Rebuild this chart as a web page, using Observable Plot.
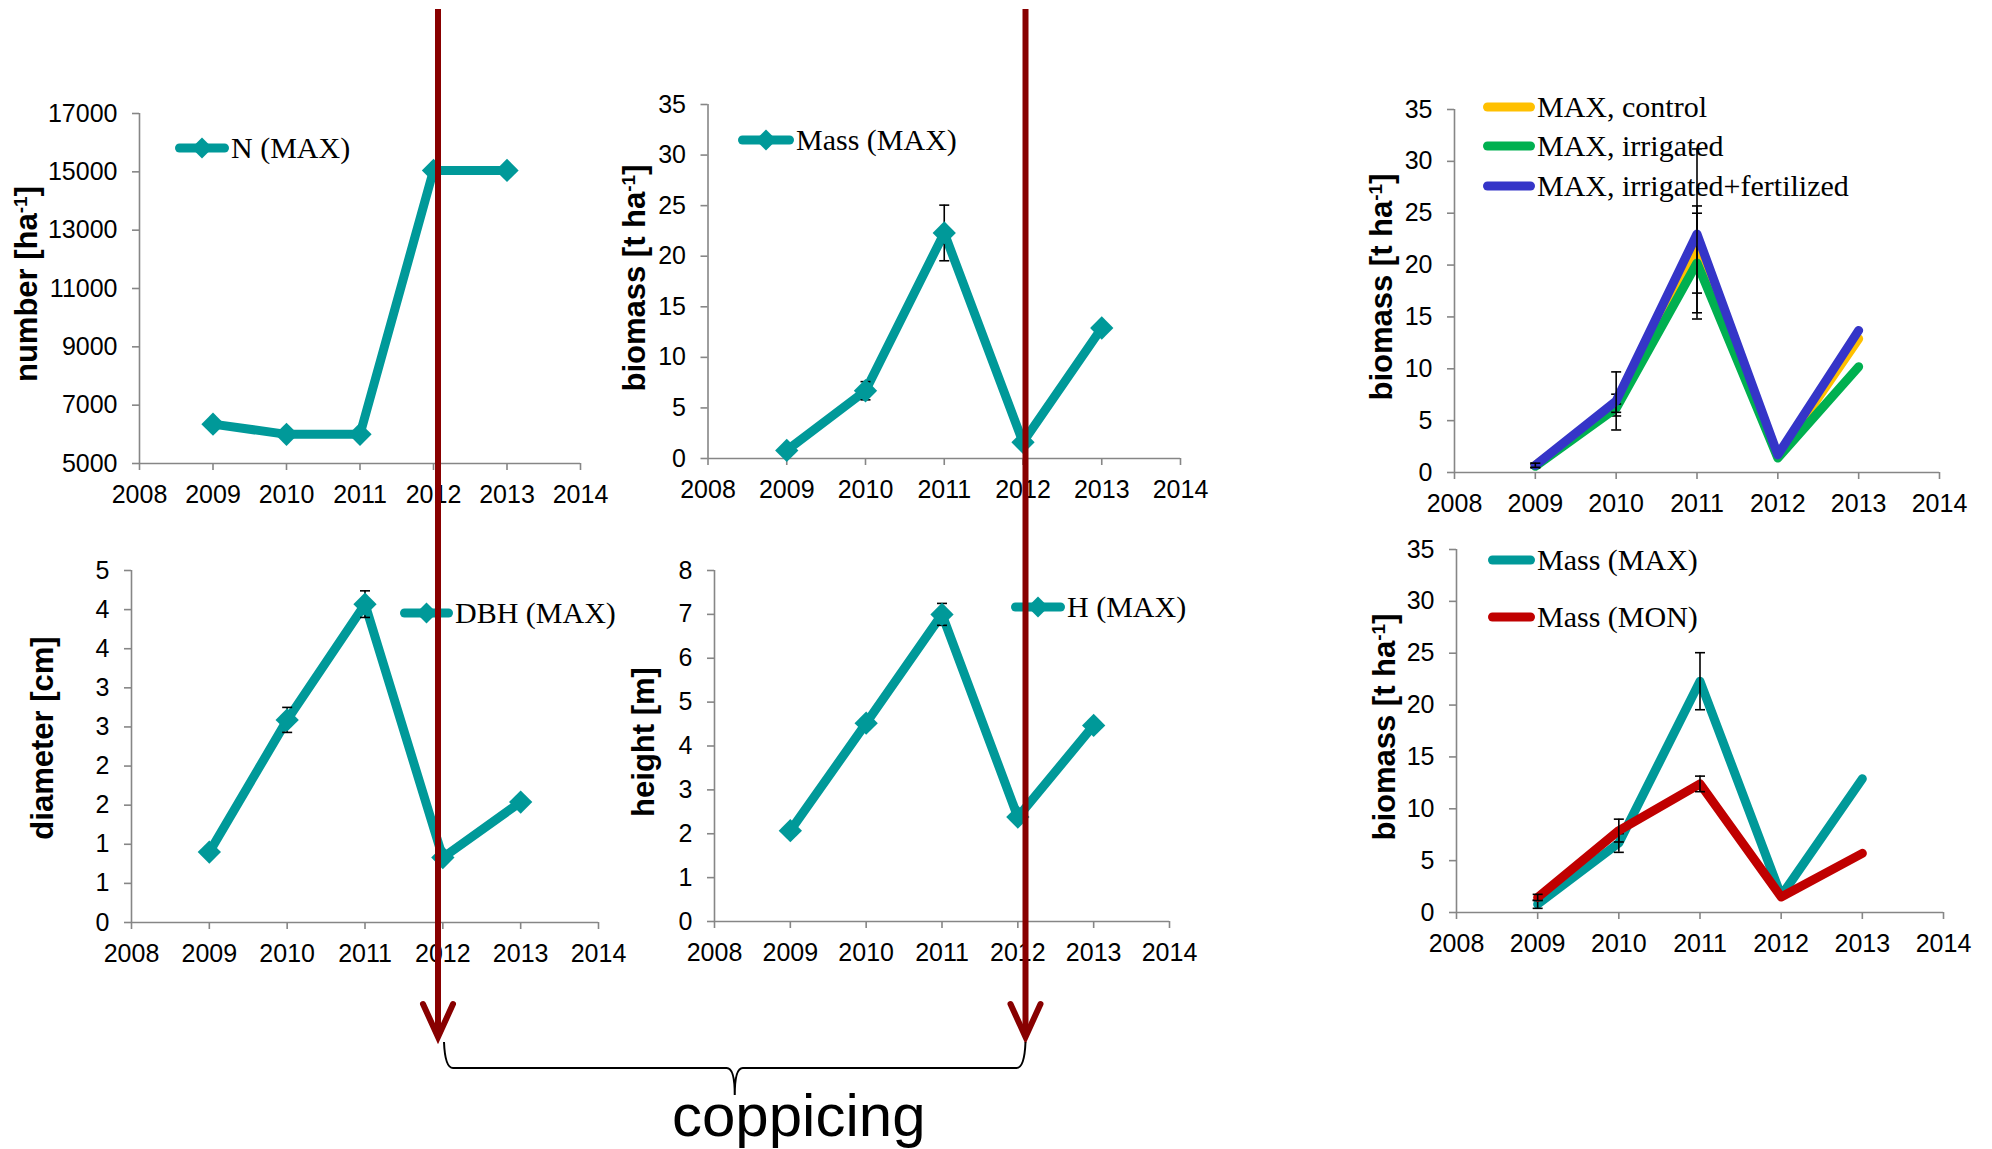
<!DOCTYPE html>
<html>
<head>
<meta charset="utf-8">
<script src="https://cdn.jsdelivr.net/npm/d3@7"></script>
<script src="https://cdn.jsdelivr.net/npm/@observablehq/plot@0.6"></script>
<style>
  html, body { margin: 0; padding: 0; background: #fff; }
  #fig { position: relative; width: 1992px; height: 1149px; overflow: hidden; background: #fff; }
  #fig > svg { position: absolute; }
</style>
</head>
<body>
<div id="fig"></div>
<script>
// ---- data ---------------------------------------------------------------
const years = [2009, 2010, 2011, 2012, 2013];
const xTicks = [2008, 2009, 2010, 2011, 2012, 2013, 2014];
const coppicingYear = 2012;

// MAX clone, stand density
const nMax = [6350, 6000, 6000, 15050, 15050];
// MAX clone, standing biomass and its standard errors
const massMax = [0.8, 6.7, 22.3, 1.6, 12.9];
const massMaxErr = [0.4, 0.9, 2.75, 0, 0];
// MAX clone, breast-height diameter
const dbhMax = [0.9, 2.59, 4.07, 0.83, 1.54];
const dbhMaxErr = [0, 0.16, 0.17, 0, 0];
// MAX clone, tree height
const hMax = [2.07, 4.52, 7.0, 2.38, 4.47];
const hMaxErr = [0, 0.08, 0.25, 0, 0];
// MAX clone by treatment
const massControl = [0.7, 6.5, 21.5, 1.5, 12.9];
const massControlErr = [0.2, 1.05, 4.2, 0, 0];
const massIrrigated = [0.6, 6.2, 20.2, 1.4, 10.2];
const massIrrigatedErr = [0.15, 0.4, 4.8, 0, 0];
const massIrrFert = [0.7, 6.9, 23.0, 1.7, 13.7];
const massIrrFertErr = [0.2, 2.8, 8.2, 0, 0];
// MON clone, standing biomass
const massMon = [1.45, 7.9, 12.4, 1.5, 5.7];
const massMonErr = [0.3, 1.1, 0.75, 0, 0];

// tick values
const nTicks = [5000, 7000, 9000, 11000, 13000, 15000, 17000];
const massTicks = [0, 5, 10, 15, 20, 25, 30, 35];
const dbhTicks = [0, 0.5, 1, 1.5, 2, 2.5, 3, 3.5, 4, 4.5];
const hTicks = [0, 1, 2, 3, 4, 5, 6, 7, 8];

// ---- styling --------------------------------------------------------------
const TEAL = "#009999";
const RED = "#C00000";
const YELLOW = "#FFC000";
const GREEN = "#00B050";
const BLUE = "#3535C8";
const DARKRED = "#880000";
const AXIS = "#868686";
const SANS = "'Liberation Sans', Arial, sans-serif";
const SERIF = "'Liberation Serif', 'Times New Roman', serif";
const LINE_W = 9;

const rows = (vals, errs) => years.map((year, i) => ({year, v: vals[i], e: errs ? errs[i] : 0}));

// horizontal cap used at both ends of an error bar
const capSymbol = {
  draw(ctx, size) {
    const w = Math.sqrt(size / Math.PI);
    ctx.moveTo(-w, 0);
    ctx.lineTo(w, 0);
  }
};

const fig = document.getElementById("fig");

function panel(cfg) {
  const [bx, by, bw, bh] = cfg.box;
  const [fx0, fx1, fy0, fy1] = cfg.frame;
  const marks = [
    Plot.axisX(xTicks, {anchor: "bottom", tickSize: 7, tickPadding: 15, tickFormat: d => String(d),
      stroke: AXIS, strokeWidth: 1.6, fill: "black", label: null}),
    Plot.axisY(cfg.yTicks, {anchor: "left", tickSize: 7, tickPadding: 15, tickFormat: cfg.yFormat,
      stroke: AXIS, strokeWidth: 1.6, fill: "black", label: null}),
    Plot.ruleY([cfg.yDomain[0]], {stroke: AXIS, strokeWidth: 1.6}),
    Plot.ruleX([2008], {stroke: AXIS, strokeWidth: 1.6})
  ];
  for (const s of cfg.series) {
    const data = rows(s.values, s.errors);
    marks.push(Plot.line(data, {x: "year", y: "v", stroke: s.color, strokeWidth: LINE_W,
      strokeLinejoin: "round", strokeLinecap: "round"}));
    const err = data.filter(d => d.e > 0);
    if (err.length) {
      marks.push(Plot.ruleX(err, {x: "year", y1: d => d.v - d.e, y2: d => d.v + d.e, stroke: "black", strokeWidth: 1.6}));
      marks.push(Plot.dot(err, {x: "year", y: d => d.v - d.e, symbol: capSymbol, r: 5, fill: "none", stroke: "black", strokeWidth: 1.6}));
      marks.push(Plot.dot(err, {x: "year", y: d => d.v + d.e, symbol: capSymbol, r: 5, fill: "none", stroke: "black", strokeWidth: 1.6}));
    }
    if (s.marker) {
      marks.push(Plot.dot(data, {x: "year", y: "v", symbol: "diamond2", r: 10.5, fill: s.color, stroke: "none"}));
    }
  }
  const plot = Plot.plot({
    width: bw, height: bh,
    marginLeft: fx0 - bx, marginRight: bx + bw - fx1,
    marginTop: fy0 - by, marginBottom: by + bh - fy1,
    x: {domain: [2008, 2014], label: null},
    y: {domain: cfg.yDomain, label: null},
    style: {fontFamily: SANS, fontSize: "25px", background: "transparent", overflow: "visible", color: "black"},
    marks
  });
  plot.style.left = bx + "px";
  plot.style.top = by + "px";
  fig.appendChild(plot);

  const svg = d3.select(plot);

  // y-axis title with superscript unit exponent
  const [tx, ty] = cfg.titlePos;
  const t = svg.append("text")
    .attr("transform", `translate(${tx - bx},${ty - by}) rotate(-90)`)
    .attr("text-anchor", "middle")
    .attr("dy", "0.28em")
    .attr("font-family", SANS)
    .attr("font-weight", "bold")
    .attr("font-size", 31)
    .attr("fill", "black");
  cfg.title.forEach(part => {
    const sp = t.append("tspan").text(part.text);
    if (part.sup) sp.attr("font-size", 19).attr("baseline-shift", "super");
  });

  // legend entries
  const lg = svg.append("g");
  cfg.legend.forEach(item => {
    const s = cfg.series[item.series];
    const y = item.y - by;
    lg.append("line")
      .attr("x1", item.x0 - bx + LINE_W / 2).attr("x2", item.x1 - bx - LINE_W / 2)
      .attr("y1", y).attr("y2", y)
      .attr("stroke", s.color).attr("stroke-width", LINE_W).attr("stroke-linecap", "round");
    if (s.marker) {
      lg.append("path")
        .attr("transform", `translate(${(item.x0 + item.x1) / 2 - bx},${y})`)
        .attr("d", d3.symbol(d3.symbolDiamond2, 281)())
        .attr("fill", s.color);
    }
    lg.append("text")
      .attr("x", item.x1 - bx + 2).attr("y", y).attr("dy", "0.34em")
      .attr("text-anchor", "start")
      .attr("font-family", SERIF).attr("font-size", 30).attr("fill", "black")
      .text(s.name);
  });
  return plot;
}

const p1 = panel({
  box: [0, 60, 620, 460], frame: [139, 580, 113, 463],
  yDomain: [5000, 17000], yTicks: nTicks, yFormat: d => String(d),
  series: [{name: "N (MAX)", values: nMax, color: TEAL, marker: true}],
  title: [{text: "number [ha"}, {text: "-1", sup: true}, {text: "]"}], titlePos: [28, 284],
  legend: [{series: 0, x0: 175, x1: 229, y: 148}]
});

const p2 = panel({
  box: [600, 60, 620, 460], frame: [707.5, 1180, 104, 458],
  yDomain: [0, 35], yTicks: massTicks, yFormat: d => String(d),
  series: [{name: "Mass (MAX)", values: massMax, errors: massMaxErr, color: TEAL, marker: true}],
  title: [{text: "biomass [t ha"}, {text: "-1", sup: true}, {text: "]"}], titlePos: [636, 278],
  legend: [{series: 0, x0: 738, x1: 794, y: 140}]
});

const p3 = panel({
  box: [1340, 60, 640, 470], frame: [1454, 1939, 109, 472],
  yDomain: [0, 35], yTicks: massTicks, yFormat: d => String(d),
  series: [
    {name: "MAX, control", values: massControl, errors: massControlErr, color: YELLOW},
    {name: "MAX, irrigated", values: massIrrigated, errors: massIrrigatedErr, color: GREEN},
    {name: "MAX, irrigated+fertilized", values: massIrrFert, errors: massIrrFertErr, color: BLUE}
  ],
  title: [{text: "biomass [t ha"}, {text: "-1", sup: true}, {text: "]"}], titlePos: [1383, 287],
  legend: [
    {series: 0, x0: 1483, x1: 1535, y: 107},
    {series: 1, x0: 1483, x1: 1535, y: 146},
    {series: 2, x0: 1483, x1: 1535, y: 186}
  ]
});

const p4 = panel({
  box: [0, 530, 620, 460], frame: [131, 598, 570, 922],
  yDomain: [0, 4.5], yTicks: dbhTicks, yFormat: d => String(Math.round(d)),
  series: [{name: "DBH (MAX)", values: dbhMax, errors: dbhMaxErr, color: TEAL, marker: true}],
  title: [{text: "diameter [cm]"}], titlePos: [44, 738],
  legend: [{series: 0, x0: 400, x1: 453, y: 613}]
});

const p5 = panel({
  box: [600, 530, 620, 460], frame: [714, 1169, 570, 921],
  yDomain: [0, 8], yTicks: hTicks, yFormat: d => String(d),
  series: [{name: "H (MAX)", values: hMax, errors: hMaxErr, color: TEAL, marker: true}],
  title: [{text: "height [m]"}], titlePos: [645, 742],
  legend: [{series: 0, x0: 1011, x1: 1065, y: 607}]
});

const p6 = panel({
  box: [1340, 500, 640, 470], frame: [1456, 1943, 549, 912],
  yDomain: [0, 35], yTicks: massTicks, yFormat: d => String(d),
  series: [
    {name: "Mass (MAX)", values: massMax, errors: massMaxErr, color: TEAL},
    {name: "Mass (MON)", values: massMon, errors: massMonErr, color: RED}
  ],
  title: [{text: "biomass [t ha"}, {text: "-1", sup: true}, {text: "]"}], titlePos: [1386, 727],
  legend: [
    {series: 0, x0: 1488, x1: 1535, y: 560},
    {series: 1, x0: 1488, x1: 1535, y: 617}
  ]
});

// ---- coppicing arrows and brace -------------------------------------------
const ax1 = p1.scale("x").apply(coppicingYear) + 5;
const ax2 = p2.scale("x").apply(coppicingYear) + 600 + 3;
const over = d3.select(fig).append("svg")
  .attr("width", 1992).attr("height", 1149)
  .style("left", "0px").style("top", "0px").style("pointer-events", "none");

const tipY = 1037;
[ax1, ax2].forEach(x => {
  over.append("line").attr("x1", x).attr("x2", x).attr("y1", 9).attr("y2", tipY - 4)
    .attr("stroke", DARKRED).attr("stroke-width", 6);
  over.append("path")
    .attr("d", `M${x - 15},${tipY - 33} L${x},${tipY} L${x + 15},${tipY - 33}`)
    .attr("fill", "none").attr("stroke", DARKRED).attr("stroke-width", 6)
    .attr("stroke-linecap", "round").attr("stroke-linejoin", "miter");
});

const bl = ax1 + 6, br = ax2, bm = (bl + br) / 2, bTop = 1042, bMid = 1068, bTip = 1095;
over.append("path")
  .attr("d", `M${bl},${bTop} Q${bl + 1},${bMid} ${bl + 9},${bMid} L${bm - 8},${bMid} Q${bm},${bMid} ${bm},${bTip} ` +
             `Q${bm},${bMid} ${bm + 8},${bMid} L${br - 9},${bMid} Q${br - 1},${bMid} ${br},${bTop}`)
  .attr("fill", "none").attr("stroke", "black").attr("stroke-width", 2);

over.append("text")
  .attr("x", 672).attr("y", 1136)
  .attr("font-family", SANS).attr("font-size", 60).attr("fill", "black")
  .text("coppicing");
</script>
</body>
</html>
